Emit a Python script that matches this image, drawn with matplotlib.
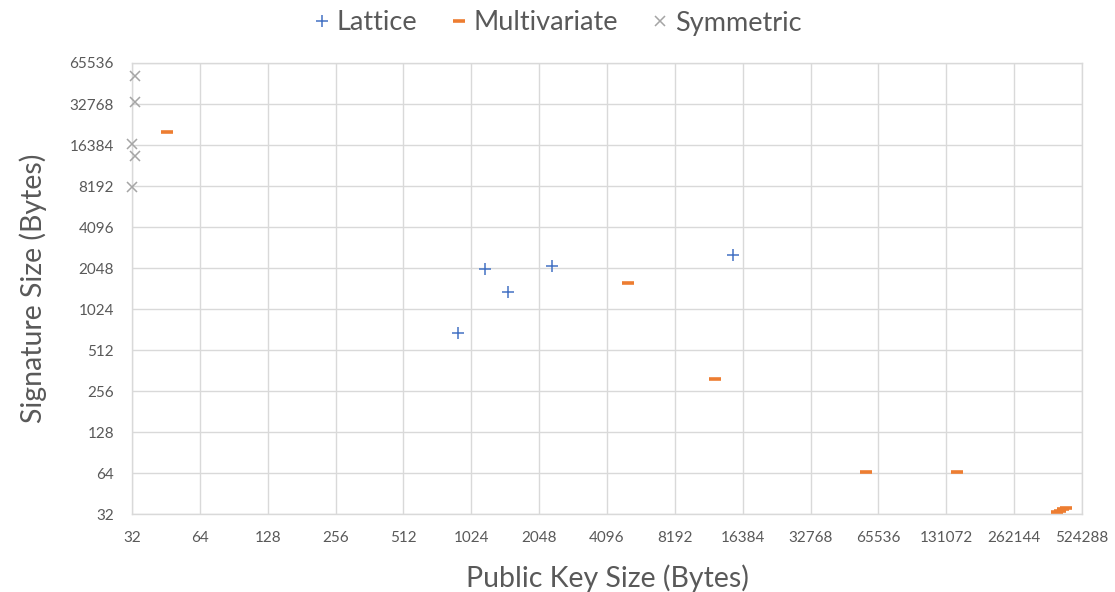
import matplotlib
matplotlib.use("Agg")
import matplotlib.pyplot as plt
from matplotlib.ticker import FixedLocator, FixedFormatter, NullLocator

plt.rcParams['font.family'] = ['Lato', 'DejaVu Sans']

# Data (bytes)
lattice_pk = [896, 1181, 1494, 2342, 14800]
lattice_sig = [683, 2013, 1366, 2119, 2556]

multi_pk = [45.8, 5075, 12330, 57900, 146700, 406000, 419000, 431000, 443000]
multi_sig = [20400, 1589, 313, 65, 65, 33.1, 33.6, 34.8, 35.4]

sym_pk = [33, 33, 32, 33, 32]
sym_sig = [52500, 33900, 16650, 13600, 8070]

x_ticks = [32, 64, 128, 256, 512, 1024, 2048, 4096, 8192, 16384, 32768,
           65536, 131072, 262144, 524288]
y_ticks = [32, 64, 128, 256, 512, 1024, 2048, 4096, 8192, 16384, 32768, 65536]

W, H = 1115, 592
fig = plt.figure(figsize=(W / 100, H / 100), dpi=100)
ax = fig.add_axes([132 / W, (H - 514) / H, 950 / W, 451 / H])

grid_c = '#D9D9D9'
text_c = '#595959'

ax.set_xscale('log', base=2)
ax.set_yscale('log', base=2)
ax.set_xlim(32, 524288)
ax.set_ylim(32, 65536)

ax.plot(lattice_pk, lattice_sig, linestyle='none', marker='+', color='#4472C4',
        markersize=9, markeredgewidth=1.1, label='Lattice', clip_on=False, zorder=3)
ax.plot(multi_pk, multi_sig, linestyle='none', marker='_', color='#ED7D31',
        markersize=9, markeredgewidth=2.6, label='Multivariate', clip_on=False, zorder=3)
ax.plot(sym_pk, sym_sig, linestyle='none', marker='x', color='#A5A5A5',
        markersize=7, markeredgewidth=1.1, label='Symmetric', clip_on=False, zorder=3)

ax.xaxis.set_major_locator(FixedLocator(x_ticks))
ax.xaxis.set_major_formatter(FixedFormatter([str(v) for v in x_ticks]))
ax.yaxis.set_major_locator(FixedLocator(y_ticks))
ax.yaxis.set_major_formatter(FixedFormatter([str(v) for v in y_ticks]))
ax.xaxis.set_minor_locator(NullLocator())
ax.yaxis.set_minor_locator(NullLocator())

ax.grid(True, color=grid_c, linewidth=1.0)
ax.set_axisbelow(True)
for s in ax.spines.values():
    s.set_color(grid_c)
    s.set_linewidth(1.0)

ax.tick_params(axis='both', length=0, labelsize=11, colors=text_c)
ax.tick_params(axis='y', pad=13)
ax.tick_params(axis='x', pad=12)

ax.set_xlabel('Public Key Size (Bytes)', fontsize=20.5, color=text_c, labelpad=14)
ax.set_ylabel('Signature Size (Bytes)', fontsize=20.5, color=text_c, labelpad=16)

leg = fig.legend(loc='center', bbox_to_anchor=(0.499, 1 - 23 / H), ncol=3, frameon=False,
                 fontsize=19.5, handletextpad=0.15, columnspacing=1.15, handlelength=0.8,
                 labelcolor=text_c, borderpad=0)

fig.savefig('out.png', dpi=100)
